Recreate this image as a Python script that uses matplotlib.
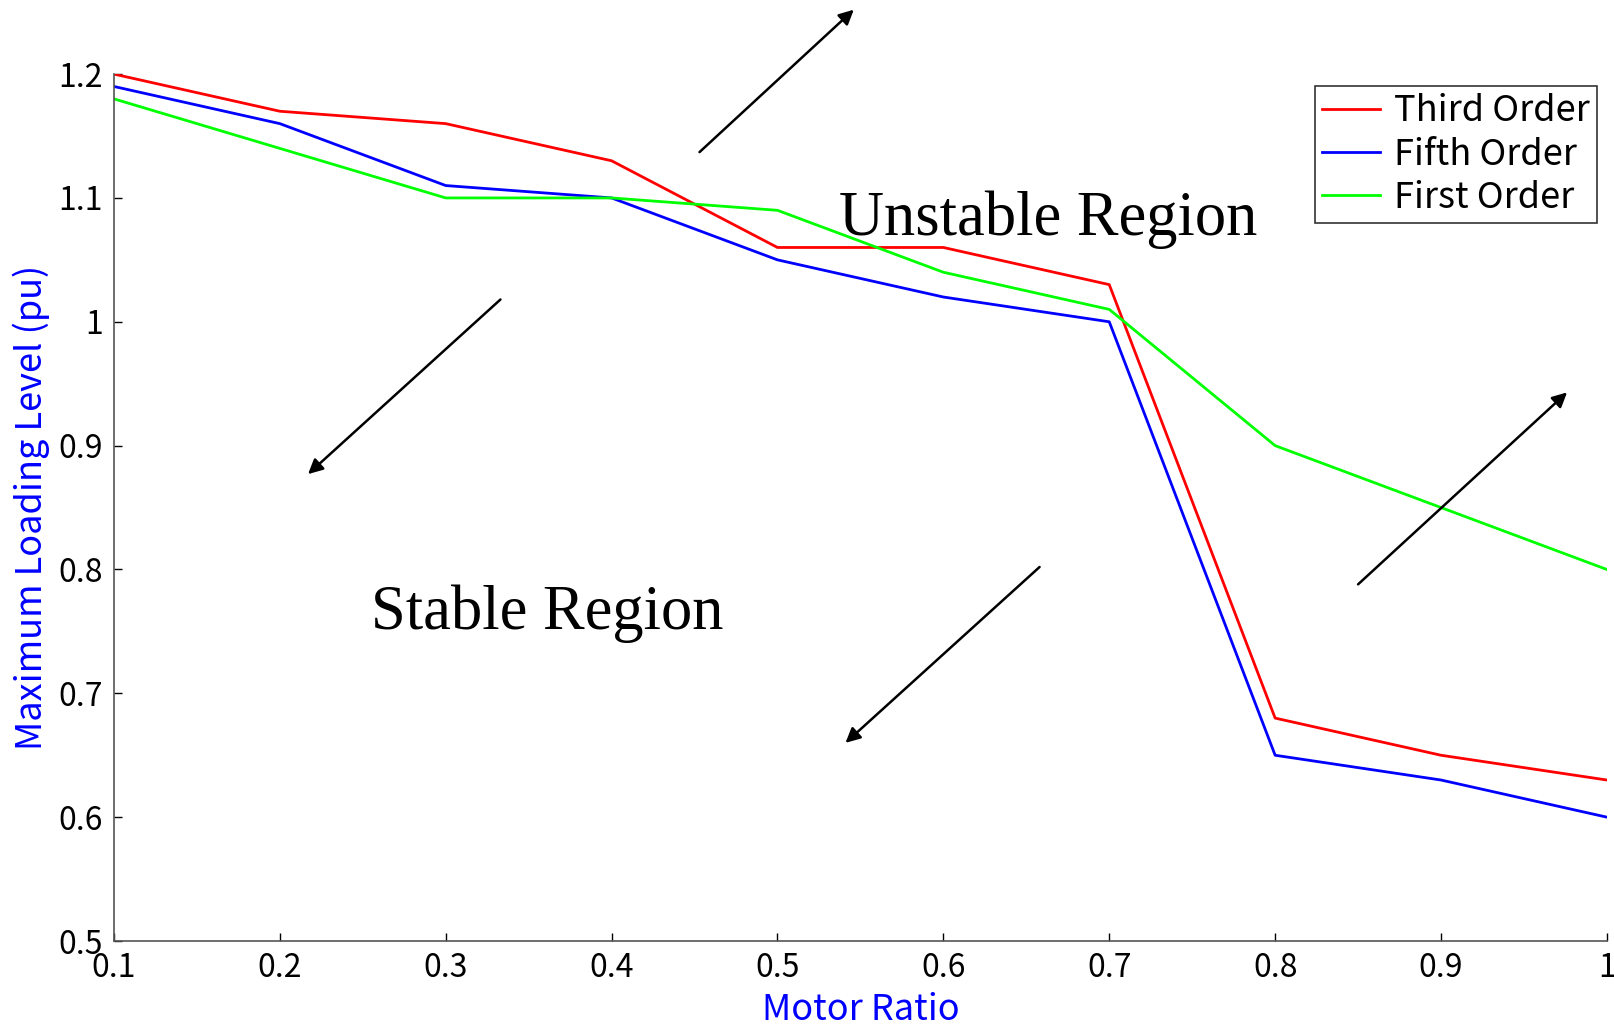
import matplotlib
matplotlib.use("Agg")
import matplotlib.pyplot as plt

# motor ratio vs maximum loading level for three motor models
motor_ratio = [0.1, 0.2, 0.3, 0.4, 0.5, 0.6, 0.7, 0.8, 0.9, 1.0]
third_order = [1.20, 1.17, 1.16, 1.13, 1.06, 1.06, 1.03, 0.68, 0.65, 0.63]
fifth_order = [1.19, 1.16, 1.11, 1.10, 1.05, 1.02, 1.00, 0.65, 0.63, 0.60]
first_order = [1.18, 1.14, 1.10, 1.10, 1.09, 1.04, 1.01, 0.90, 0.85, 0.80]

x_ticks = [0.1, 0.2, 0.3, 0.4, 0.5, 0.6, 0.7, 0.8, 0.9, 1.0]
x_tick_labels = ['0.1', '0.2', '0.3', '0.4', '0.5', '0.6', '0.7', '0.8', '0.9', '1']
y_ticks = [0.5, 0.6, 0.7, 0.8, 0.9, 1.0, 1.1, 1.2]
y_tick_labels = ['0.5', '0.6', '0.7', '0.8', '0.9', '1', '1.1', '1.2']

# arrows: (tail, head) in data coords
arrows = [
    ((0.453, 1.137), (0.546, 1.252)),
    ((0.333, 1.018), (0.217, 0.877)),
    ((0.658, 0.802), (0.541, 0.660)),
    ((0.850, 0.788), (0.976, 0.943)),
]

plt.rcParams['font.family'] = ['Noto Sans CJK JP', 'DejaVu Sans']

fig = plt.figure(figsize=(16.14, 10.29), dpi=100)
ax = fig.add_axes([0.0706, 0.0855, 0.925, 0.8425])

ax.plot(motor_ratio, third_order, color='#ff0000', lw=2, label='Third Order')
ax.plot(motor_ratio, fifth_order, color='#0000ff', lw=2, label='Fifth Order')
ax.plot(motor_ratio, first_order, color='#00ff00', lw=2, label='First Order')

ax.set_xlim(0.1, 1.0)
ax.set_ylim(0.5, 1.2)
ax.set_xticks(x_ticks)
ax.set_xticklabels(x_tick_labels)
ax.set_yticks(y_ticks)
ax.set_yticklabels(y_tick_labels)
ax.tick_params(direction='in', length=6, width=1, labelsize=23, pad=8, colors='black')

for s in ['top', 'right']:
    ax.spines[s].set_visible(False)
for s in ['left', 'bottom']:
    ax.spines[s].set_color('#555555')
    ax.spines[s].set_linewidth(1.2)

ax.set_xlabel('Motor Ratio', color='#0000ff', fontsize=26, labelpad=6)
ax.set_ylabel('Maximum Loading Level (pu)', color='#0000ff', fontsize=26, labelpad=6)

for tail, head in arrows:
    ax.annotate('', xy=head, xytext=tail, annotation_clip=False,
                arrowprops=dict(arrowstyle='-|>', color='black', lw=1.8,
                                mutation_scale=22, shrinkA=0, shrinkB=0))

ax.text(0.663, 1.0825, 'Unstable Region', ha='center', va='center',
        fontsize=45, family='Liberation Serif')
ax.text(0.361, 0.764, 'Stable Region', ha='center', va='center',
        fontsize=45, family='Liberation Serif')

leg = ax.legend(loc='upper right', bbox_to_anchor=(0.9936, 0.986), fontsize=26,
                frameon=True, fancybox=False, handlelength=1.6, handletextpad=0.4,
                borderpad=0.2, labelspacing=0.2, borderaxespad=0)
leg.get_frame().set_edgecolor('black')
leg.get_frame().set_linewidth(1.2)

fig.savefig('out.png', dpi=100)
